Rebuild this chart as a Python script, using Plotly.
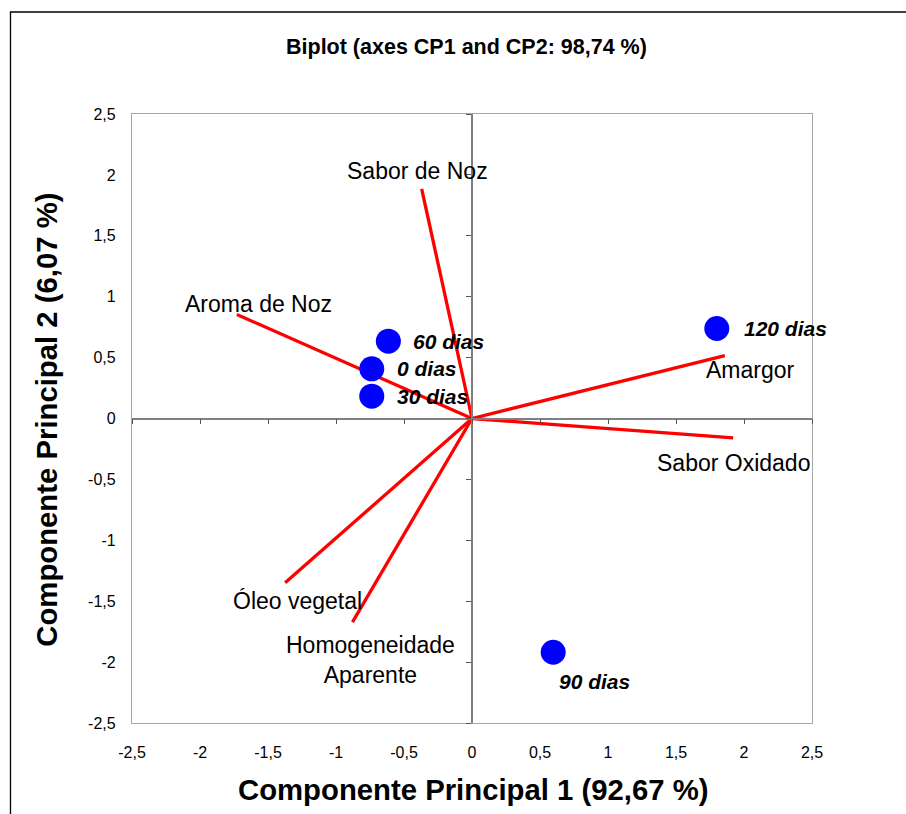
import plotly.graph_objects as go

# ---------------- data ----------------
obs_labels = ["0 dias", "30 dias", "60 dias", "90 dias", "120 dias"]
obs_cp1 = [-0.737, -0.737, -0.615, 0.597, 1.80]
obs_cp2 = [0.408, 0.183, 0.635, -1.919, 0.739]

var_labels = ["Sabor de Noz", "Aroma de Noz", "Amargor", "Sabor Oxidado",
              "Óleo vegetal", "Homogeneidade<br>Aparente"]
var_cp1 = [-0.37, -1.729, 1.859, 1.92, -1.374, -0.879]
var_cp2 = [1.886, 0.854, 0.517, -0.159, -1.349, -1.672]

tick_vals = [-2.5, -2, -1.5, -1, -0.5, 0, 0.5, 1, 1.5, 2, 2.5]
tick_text = ["-2,5", "-2", "-1,5", "-1", "-0,5", "0", "0,5", "1", "1,5", "2", "2,5"]

title_text = "Biplot (axes CP1 and CP2: 98,74 %)"
x_title = "Componente Principal 1 (92,67 %)"
y_title = "Componente Principal 2 (6,07 %)"

# ---------------- styling ----------------
FONT = "Liberation Sans, Arial, sans-serif"
# pixel offsets for labels (layout only)
var_offsets = {
    "Sabor de Noz": (-4, 18),
    "Aroma de Noz": (22, 10),
    "Amargor": (26, -14),
    "Sabor Oxidado": (0, -25),
    "Óleo vegetal": (12, -18),
    "Homogeneidade<br>Aparente": (18, -38),
}
obs_offsets = {
    "0 dias": ("left", 23, 0),
    "30 dias": ("left", 23, 0),
    "60 dias": ("left", 23, 0),
    "90 dias": ("left", 4, -29),
    "120 dias": ("left", 25, 0),
}

fig = go.Figure()

# variable vectors
for lab, vx, vy in zip(var_labels, var_cp1, var_cp2):
    fig.add_trace(go.Scatter(
        x=[0, vx], y=[0, vy], mode="lines",
        line=dict(color="#FF0000", width=3.3),
        hoverinfo="skip", showlegend=False, cliponaxis=False,
    ))

# observations
fig.add_trace(go.Scatter(
    x=obs_cp1, y=obs_cp2, mode="markers",
    marker=dict(color="#0000FF", size=25, line=dict(width=0)),
    text=obs_labels, showlegend=False, cliponaxis=False,
))

annotations = []
for lab, vx, vy in zip(var_labels, var_cp1, var_cp2):
    dx, dy = var_offsets[lab]
    annotations.append(dict(
        x=vx, y=vy, xref="x", yref="y", text=lab, showarrow=False,
        xanchor="center", yanchor="middle", xshift=dx, yshift=dy,
        font=dict(family=FONT, size=23, color="#000000"),
    ))
for lab, ox, oy in zip(obs_labels, obs_cp1, obs_cp2):
    anc, dx, dy = obs_offsets[lab]
    annotations.append(dict(
        x=ox, y=oy, xref="x", yref="y", text="<b><i>" + lab + "</i></b>",
        showarrow=False, xanchor=anc, yanchor="middle", xshift=dx, yshift=dy,
        font=dict(family=FONT, size=21, color="#000000"),
    ))

# titles as annotations (paper coordinates)
annotations.append(dict(
    x=0.492, y=1.11, xref="paper", yref="paper", text="<b>" + title_text + "</b>",
    showarrow=False, xanchor="center", yanchor="middle",
    font=dict(family=FONT, size=21.5, color="#000000"),
))
annotations.append(dict(
    x=0.502, y=-0.11, xref="paper", yref="paper", text="<b>" + x_title + "</b>",
    showarrow=False, xanchor="center", yanchor="middle",
    font=dict(family=FONT, size=29.3, color="#000000"),
))
annotations.append(dict(
    x=-0.125, y=0.498, xref="paper", yref="paper", text="<b>" + y_title + "</b>",
    showarrow=False, xanchor="center", yanchor="middle", textangle=-90,
    font=dict(family=FONT, size=29.3, color="#000000"),
))

shapes = [
    # outer chart border (extends beyond the window on right/bottom)
    dict(type="rect", xref="paper", yref="paper", x0=-0.1787, x1=1.3,
         y0=-0.3, y1=1.1675, line=dict(color="#000000", width=1.3),
         fillcolor="rgba(0,0,0,0)", layer="below"),
]

common_axis = dict(
    range=[-2.5, 2.5], tickmode="array", tickvals=tick_vals, ticktext=tick_text,
    showgrid=False, zeroline=False, showline=True, mirror=True,
    linecolor="#A6A6A6", linewidth=1.2,
    ticks="outside", tickcolor="rgba(0,0,0,0)",
    tickfont=dict(family=FONT, size=16, color="#000000"),
    fixedrange=True,
)

fig.update_layout(
    width=906, height=814,
    margin=dict(l=132, r=94, t=114, b=91),
    paper_bgcolor="white", plot_bgcolor="white",
    xaxis=dict(**common_axis, ticklen=15),
    yaxis=dict(**common_axis, ticklen=12),
    # axes crossing at zero
    xaxis2=dict(range=[-2.5, 2.5], tickmode="array", tickvals=tick_vals,
                showticklabels=False, overlaying="x", anchor="free", position=0.5,
                side="bottom", showline=True, linecolor="#7F7F7F", linewidth=1.5,
                ticks="outside", ticklen=5, tickcolor="#555555", tickwidth=1,
                showgrid=False, zeroline=False, fixedrange=True),
    yaxis2=dict(range=[-2.5, 2.5], tickmode="array", tickvals=tick_vals,
                showticklabels=False, overlaying="y", anchor="free", position=0.5,
                side="left", showline=True, linecolor="#7F7F7F", linewidth=1.5,
                ticks="outside", ticklen=5, tickcolor="#555555", tickwidth=1,
                showgrid=False, zeroline=False, fixedrange=True),
    annotations=annotations,
    shapes=shapes,
    showlegend=False,
)

# dummy trace to activate the zero-crossing axes
fig.add_trace(go.Scatter(x=[None], y=[None], xaxis="x2", yaxis="y2",
                         showlegend=False, hoverinfo="skip"))

fig.write_html("out.html")
